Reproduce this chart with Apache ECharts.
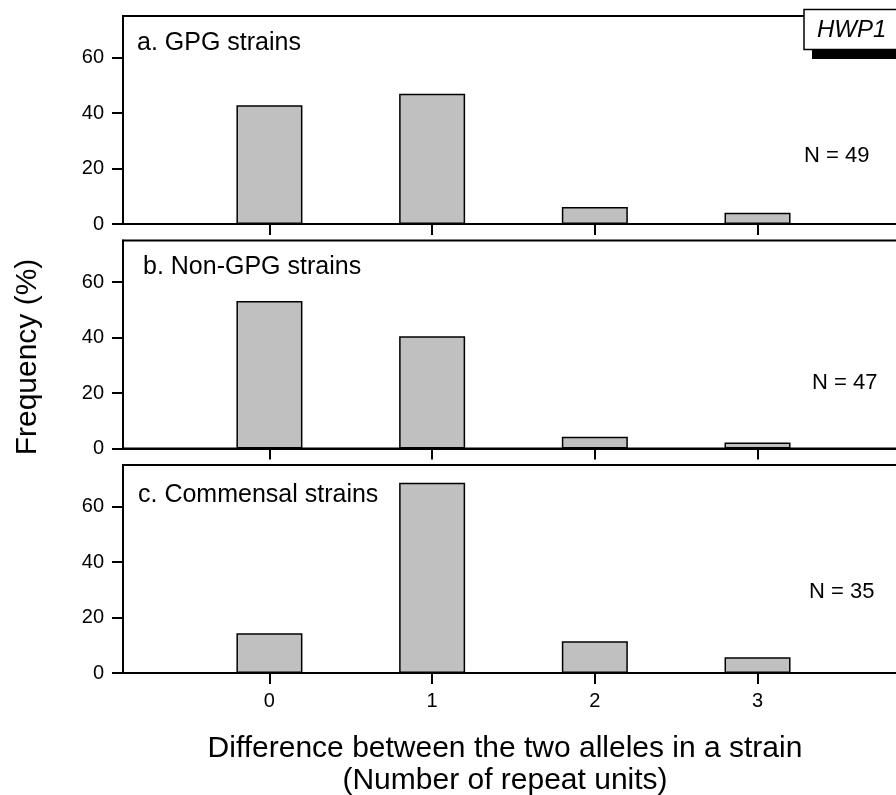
<!DOCTYPE html>
<html>
<head>
<meta charset="utf-8">
<script src="https://cdn.jsdelivr.net/npm/echarts@6/dist/echarts.min.js"></script>
<style>
  html, body { margin: 0; padding: 0; background: #fff; overflow: hidden; }
  #chart { width: 940px; height: 795px; }
</style>
</head>
<body>
<div id="chart"></div>
<script>
// Repeat-unit difference between the two HWP1 alleles of each strain
const categories = [0, 1, 2, 3];
const panelLabels = ['a. GPG strains', 'b. Non-GPG strains', 'c. Commensal strains'];
const sampleSizes = ['N = 49', 'N = 47', 'N = 35'];
const gpgFreq = [42.86, 46.94, 6.12, 4.08];
const nonGpgFreq = [53.19, 40.43, 4.26, 2.13];
const commensalFreq = [14.29, 68.57, 11.43, 5.71];
const yTicks = [0, 20, 40, 60];
const xLabel = ['Difference between the two alleles in a strain', '(Number of repeat units)'];
const yLabel = 'Frequency (%)';
const geneName = 'HWP1';

const seriesValues = [gpgFreq, nonGpgFreq, commensalFreq];
const FONT = 'Liberation Sans, Arial, Helvetica, sans-serif';

const gridTops = [16, 240.5, 465];
const gridH = 208;
const gridLeft = 123;
const unitPx = 162.7;
const xMin = -0.9, xMax = 4.0;

const labelOffsets = [[137, 31], [143, 255], [138, 483]];
const nOffsets = [[804, 145], [812, 372], [809, 581]];

const grids = [], xAxes = [], yAxes = [], series = [], graphics = [];

seriesValues.forEach((vals, i) => {
  grids.push({
    left: gridLeft, top: gridTops[i], height: gridH,
    width: (xMax - xMin) * unitPx,
    show: true, borderColor: '#000', borderWidth: 2, backgroundColor: 'transparent'
  });
  const isLast = i === seriesValues.length - 1;
  xAxes.push({
    type: 'value', gridIndex: i, min: xMin, max: xMax,
    axisLine: { show: true, onZero: false, lineStyle: { color: '#000', width: 2 } },
    axisTick: { show: true, inside: false, length: 11, customValues: categories, lineStyle: { color: '#000', width: 2 } },
    axisLabel: { show: isLast, customValues: categories, color: '#000', fontSize: 20, fontFamily: FONT, margin: 18 },
    splitLine: { show: false }
  });
  yAxes.push({
    type: 'value', gridIndex: i, min: 0, max: 75,
    axisLine: { show: true, onZero: false, lineStyle: { color: '#000', width: 2 } },
    axisTick: { show: true, inside: false, length: 11, customValues: yTicks, lineStyle: { color: '#000', width: 2 } },
    axisLabel: { show: true, customValues: yTicks, color: '#000', fontSize: 20, fontFamily: FONT, margin: 19 },
    splitLine: { show: false }
  });
  series.push({
    type: 'bar', xAxisIndex: i, yAxisIndex: i,
    barWidth: 66,
    data: categories.map((c, k) => [c, vals[k]]),
    itemStyle: { color: '#c0c0c0', borderColor: '#000', borderWidth: 1.5 },
    animation: false
  });
  graphics.push({
    type: 'text', left: labelOffsets[i][0], top: labelOffsets[i][1],
    style: { text: panelLabels[i], font: '25px ' + FONT, fill: '#000' }
  });
  graphics.push({
    type: 'text', left: nOffsets[i][0], top: nOffsets[i][1],
    style: { text: sampleSizes[i], font: '22px ' + FONT, fill: '#000' }
  });
});

// gene name tag with drop shadow bar
graphics.push({ type: 'rect', shape: { x: 812, y: 48, width: 120, height: 11 }, style: { fill: '#000' }, z: 100 });
graphics.push({ type: 'rect', shape: { x: 804, y: 9.5, width: 120, height: 40 }, style: { fill: '#fff', stroke: '#000', lineWidth: 1.5 }, z: 101 });
graphics.push({
  type: 'text', left: 817, top: 18, z: 102,
  style: { text: geneName, font: 'italic 24px ' + FONT, fill: '#000' }
});

// axis titles
graphics.push({
  type: 'text', x: 505, y: 765,
  style: { text: xLabel.join('\n'), font: '30px ' + FONT, fill: '#000', align: 'center', verticalAlign: 'middle', lineHeight: 32 }
});
graphics.push({
  type: 'text', x: 28, y: 357, rotation: Math.PI / 2,
  style: { text: yLabel, font: '30px ' + FONT, fill: '#000', align: 'center', verticalAlign: 'middle' }
});

const chart = echarts.init(document.getElementById('chart'), null, { renderer: 'canvas' });
chart.setOption({
  backgroundColor: '#fff',
  animation: false,
  grid: grids,
  xAxis: xAxes,
  yAxis: yAxes,
  series: series,
  graphic: graphics
});
</script>
</body>
</html>
